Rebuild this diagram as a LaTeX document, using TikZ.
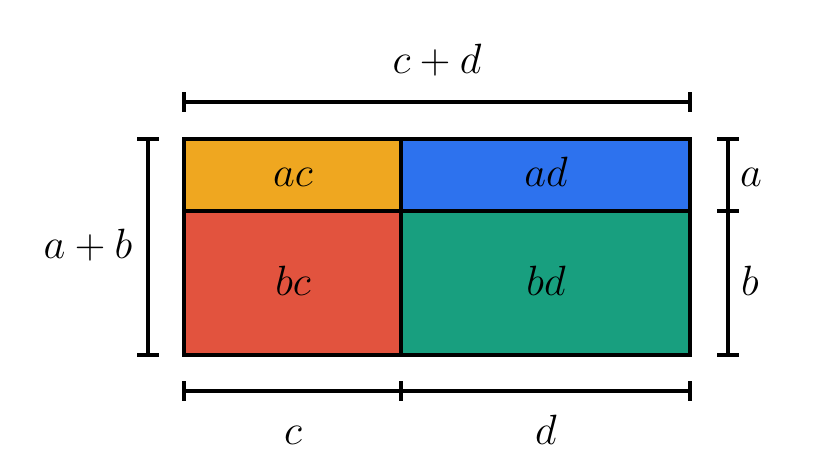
\documentclass[tikz,border=0pt]{standalone}
\usepackage{graphicx}
\usepackage{tikz}
\usetikzlibrary{positioning}
\definecolor{acfill}{HTML}{EFA720}
\definecolor{adfill}{HTML}{2D72EE}
\definecolor{bcfill}{HTML}{E2533E}
\definecolor{bdfill}{HTML}{189F7F}
\newcommand{\biglbl}[1]{\scalebox{1.21}{\Huge$#1$}}
\tikzset{
  lbl/.style={anchor=base,inner sep=0pt},
  tick/.style={line width=2.8pt}
}

\begin{document}
\begin{tikzpicture}[x=0.025cm,y=-0.025cm,line width=2.8pt]
      \useasboundingbox (0,0) rectangle (817,474);
      % cells
      \fill[acfill] (184,139) rectangle (401,211);
      \fill[adfill] (401,139) rectangle (690,211);
      \fill[bcfill] (184,211) rectangle (401,355);
      \fill[bdfill] (401,211) rectangle (690,355);
      \draw (184,139) rectangle (690,355);
      \draw (401,139) -- (401,355);
      \draw (184,211) -- (690,211);
      \node[lbl] (ac) at (293,186) {\biglbl{ac}};
      \node[lbl] (ad) at (546,186) {\biglbl{ad}};
      \node[lbl] (bc) at (293,295) {\biglbl{bc}};
      \node[lbl] (bd) at (546,295) {\biglbl{bd}};
      % top
      \coordinate (t1) at (184,102);
      \coordinate (t2) at (690,102);
      \draw (t1) -- (t2);
      \draw[tick] (184,92) -- (184,112);
      \draw[tick] (690,92) -- (690,112);
      \node[lbl] (cd) at (437,73) {\biglbl{c+d}};
      % left
      \coordinate (l1) at (148,139);
      \coordinate (l2) at (148,355);
      \draw (l1) -- (l2);
      \draw[tick] (137,139) -- (159,139);
      \draw[tick] (137,355) -- (159,355);
      \node[lbl] (ab) at (88,258) {\biglbl{a+b}};
      % right
      \coordinate (r1) at (728,139);
      \coordinate (r2) at (728,355);
      \draw (r1) -- (r2);
      \foreach \y in {139,211,355}
        \draw[tick] (717,\y) -- (739,\y);
      \node[lbl] (a) at (751,186) {\biglbl{a}};
      \node[lbl] (b) at (750,295) {\biglbl{b}};
      % bottom
      \coordinate (b1) at (184,391);
      \coordinate (b2) at (690,391);
      \draw (b1) -- (b2);
      \foreach \x in {184,401,690}
        \draw[tick] (\x,381) -- (\x,401);
      \node[lbl] (c) at (293,444) {\biglbl{c}};
      \node[lbl] (d) at (546,444) {\biglbl{d}};
    \end{tikzpicture}
\end{document}
